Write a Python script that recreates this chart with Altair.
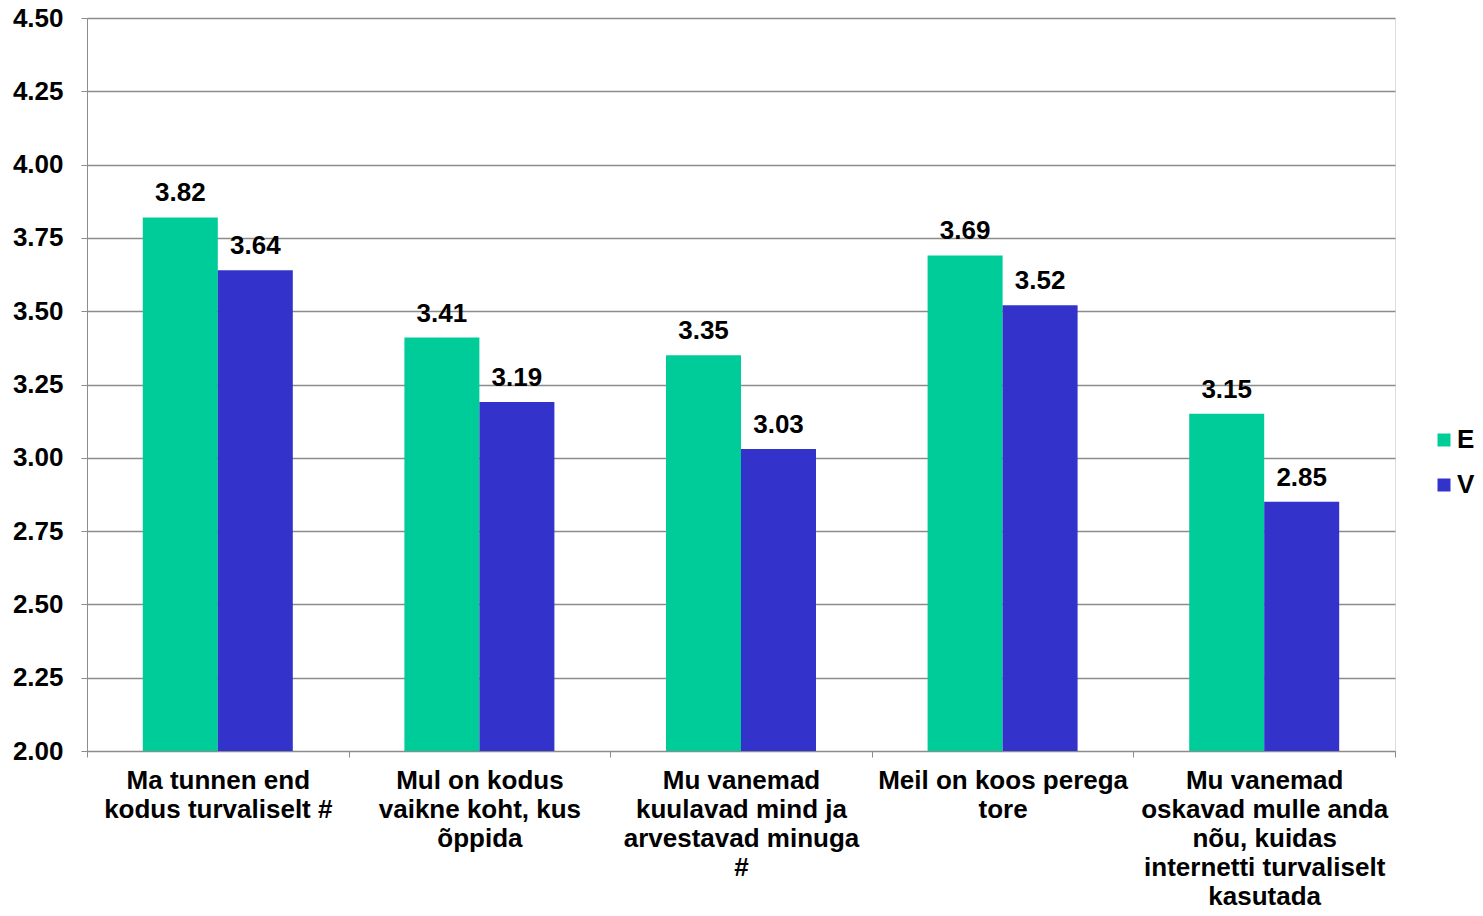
import altair as alt
import pandas as pd

categories = [
    "Ma tunnen end|kodus turvaliselt #",
    "Mul on kodus|vaikne koht, kus|õppida",
    "Mu vanemad|kuulavad mind ja|arvestavad minuga|#",
    "Meil on koos perega|tore",
    "Mu vanemad|oskavad mulle anda|nõu, kuidas|internetti turvaliselt|kasutada",
]
series = ["E", "V"]
values_E = [3.82, 3.41, 3.35, 3.69, 3.15]
values_V = [3.64, 3.19, 3.03, 3.52, 2.85]
y_ticks = [2.0, 2.25, 2.5, 2.75, 3.0, 3.25, 3.5, 3.75, 4.0, 4.25, 4.5]

rows = []
for c, e, v in zip(categories, values_E, values_V):
    rows.append({"cat": c, "series": "E", "value": e})
    rows.append({"cat": c, "series": "V", "value": v})
df = pd.DataFrame(rows)

FONT = "Liberation Sans"
GRID = "#8c8c8c"
FS = 26

x = alt.X(
    "cat:N",
    sort=categories,
    scale=alt.Scale(paddingInner=0, paddingOuter=0),
    axis=alt.Axis(
        title=None,
        labelAngle=0,
        labelExpr="split(datum.label, '|')",
        labelFont=FONT,
        labelFontSize=FS,
        labelFontWeight="bold",
        labelColor="#000000",
        labelLineHeight=29,
        labelPadding=10,
        labelBaseline="top",
        tickBand="extent",
        tickSize=6,
        tickColor=GRID,
        domainColor=GRID,
        grid=False,
        labelLimit=400,
    ),
)
xoff = alt.XOffset(
    "series:N",
    sort=series,
    scale=alt.Scale(paddingInner=0, paddingOuter=0.744),
)
y = alt.Y(
    "value:Q",
    scale=alt.Scale(domain=[2.0, 4.5], nice=False, zero=False),
    axis=alt.Axis(
        title=None,
        values=y_ticks,
        format=".2f",
        labelFont=FONT,
        labelFontSize=FS,
        labelFontWeight="bold",
        labelColor="#000000",
        labelPadding=18,
        tickSize=6,
        tickColor=GRID,
        domainColor=GRID,
        gridColor=GRID,
        gridWidth=1.5,
        gridOpacity=1,
    ),
)
color = alt.Color(
    "series:N",
    sort=series,
    scale=alt.Scale(domain=series, range=["#00CC99", "#3333CC"]),
    legend=alt.Legend(
        title=None,
        orient="none",
        legendX=1344,
        legendY=409,
        padding=0,
        symbolType="square",
        symbolSize=169,
        symbolStrokeWidth=0,
        symbolOpacity=1,
        labelFont=FONT,
        labelFontSize=FS,
        labelFontWeight="bold",
        labelColor="#000000",
        labelOffset=0,
        rowPadding=19,
    ),
)

bars = alt.Chart(df).mark_bar(stroke=None, clip=True).encode(
    x=x, xOffset=xoff, y=y, y2=alt.datum(2.0), color=color
)
labels = alt.Chart(df).mark_text(
    font=FONT, fontSize=FS, fontWeight="bold", color="#000000",
    baseline="alphabetic", dy=-16,
).encode(x=x, xOffset=xoff, y=y, text=alt.Text("value:Q", format=".2f"))

chart = (
    alt.layer(bars, labels)
    .properties(
        width=1308,
        height=733,
        autosize=alt.AutoSizeParams(type="none"),
        padding={"left": 79, "top": 10, "right": 80, "bottom": 157},
    )
    .configure_view(stroke=None)
    .configure(background="white")
)

chart.save("out.html", embed_options={"renderer": "svg", "actions": False})
